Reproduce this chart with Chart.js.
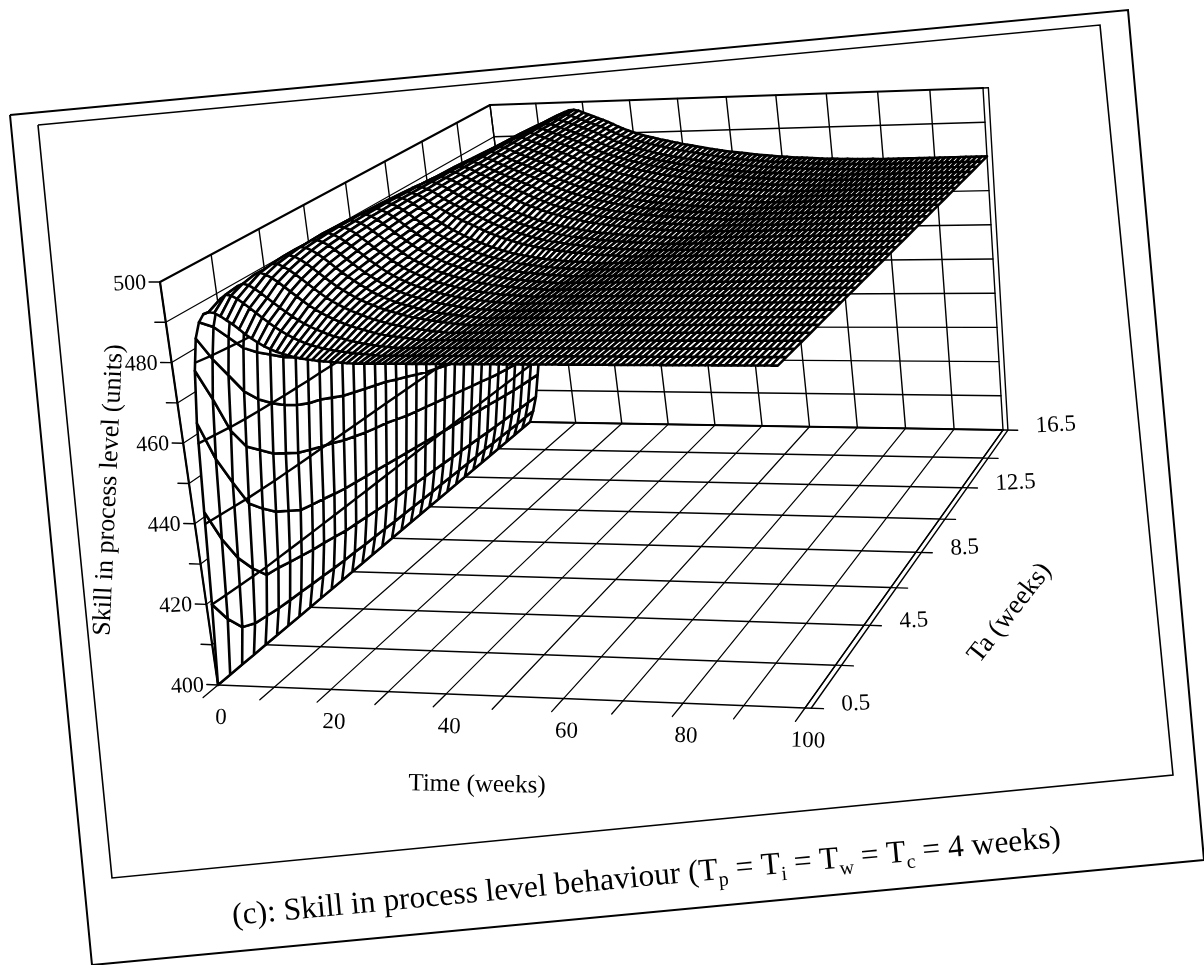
<!DOCTYPE html>
<html>
<head>
<meta charset="utf-8">
<title>Skill in process level behaviour</title>
<script src="https://cdn.jsdelivr.net/npm/chart.js@4/dist/chart.umd.min.js"></script>
<style>
  html, body { margin: 0; padding: 0; background: #fff; }
  canvas { display: block; }
</style>
</head>
<body>
<canvas id="grafico" width="1204" height="965"></canvas>
<script>
const timeTicks = [0, 20, 40, 60, 80, 100];
const taTicks = [0.5, 4.5, 8.5, 12.5, 16.5];
const skillTicks = [400, 420, 440, 460, 480, 500];
const contourLevels = [420, 440, 460, 480];
const settledLevel = 480; // every Ta sits on this level once its list below ends

const taValues = [0.5, 1, 1.5, 2, 2.5, 3, 3.5, 4, 4.5, 5, 5.5, 6, 6.5, 7, 7.5, 8, 8.5, 9, 9.5, 10, 10.5, 11, 11.5, 12, 12.5, 13, 13.5, 14, 14.5, 15, 15.5, 16, 16.5];
const timeValues = [];
for (let i = 0; i <= 100; i++) timeValues.push(i);

// skill level read week by week (week 0, 1, 2...), one list per Ta
const skillByTa = [
[400,420,443,465,478,486,490,492,492.5,492.3,491.5,490.5,489.5,488.3,487,486,485,484.1,483.4,482.8,482.3,481.9,481.5,481.2,481,480.8,480.6,480.5,480.4,480.3,480.2,480.1],
[400,414,434,454,469,479,487,491.5,494,495,494.8,494,492.9,491.7,490.5,489.3,488.1,487,486,485.1,484.3,483.6,483,482.5,482.1,481.7,481.4,481.2,481,480.8,480.6,480.5,480.4,480.2,480.1],
[400,409.5,427,446,459,473,482.5,489,493,495.4,496,495.6,494.7,493.6,492.4,491.2,490,488.9,487.8,486.8,486,485.2,484.5,483.9,483.3,482.8,482.4,482,481.6,481.3,481,480.8,480.6,480.4,480.3,480.1],
[400,408,422,438.5,453,467,478,486,491.5,495,496.6,497,496.5,495.6,494.6,493.4,492.2,491,489.8,488.7,487.7,486.8,486,485.3,484.6,484,483.5,483,482.6,482.2,481.8,481.5,481.2,481,480.8,480.6,480.4,480.2,480.1],
[400,407.5,418,435,450,463,475,484,490,494,496.5,497.5,497.5,496.8,495.9,494.8,493.6,492.4,491.2,490,488.9,487.9,487.1,486.3,485.6,485,484.4,483.8,483.3,482.9,482.5,482.1,481.8,481.5,481.2,481,480.8,480.6,480.4,480.3,480.1],
[400,407,417.5,432,447,460,472.5,482,488.7,493.3,496.3,497.8,498,497.6,496.8,495.8,494.6,493.4,492.2,491,489.9,488.9,488,487.1,486.4,485.7,485.1,484.5,484,483.5,483.1,482.7,482.3,482,481.7,481.4,481.2,481,480.8,480.6,480.4,480.3,480.1],
[400,406.7,416.7,430,445,457.5,470,480,487.4,492.5,495.9,497.8,498.4,498.2,497.5,496.6,495.5,494.3,493,491.8,490.7,489.6,488.6,487.7,486.7,486,485.3,484.7,484.1,483.6,483.2,482.8,482.4,482,481.7,481.4,481.2,481,480.8,480.6,480.5,480.3,480.2,480.1],
[400,406.5,416,428,443,455.5,468,478,486,491.7,495.5,497.7,498.5,498.5,498,497.1,496,494.8,493.5,492.3,491.1,490,489,488,487,486.2,485.5,484.9,484.3,483.8,483.4,483,482.6,482.2,481.9,481.6,481.4,481.1,480.9,480.7,480.5,480.4,480.3,480.2,480.1],
[400,406.2,415.3,427.2,441.7,454,466.5,476.8,485,491,495.2,497.6,498.6,498.7,498.2,497.4,496.4,495.2,494,492.8,491.5,490.4,489.3,488.3,487.4,486.6,485.9,485.2,484.6,484.1,483.6,483.2,482.8,482.4,482.1,481.8,481.5,481.3,481.1,480.9,480.7,480.5,480.4,480.3,480.2,480.1],
[400,406,414.8,426.5,440.5,453,465.5,475.8,484,490.2,494.6,497.3,498.5,498.8,498.5,497.8,496.8,495.6,494.4,493.1,491.9,490.8,489.7,488.7,487.7,486.9,486.2,485.5,484.9,484.3,483.8,483.4,483,482.6,482.3,482,481.7,481.4,481.2,481,480.8,480.6,480.5,480.4,480.3,480.2,480.1],
[400,405.7,414.2,425.7,439.3,451.5,464,474.5,483,489.5,494,497,498.4,498.8,498.6,498,497,495.9,494.7,493.5,492.3,491.2,490.1,489,488,487.3,486.5,485.8,485.2,484.6,484.1,483.6,483.2,482.8,482.4,482.1,481.8,481.6,481.3,481.1,480.9,480.8,480.6,480.5,480.4,480.3,480.2,480.1],
[400,405.5,413.5,425,438,450,463,473.5,482,488.8,493.5,496.6,498.2,498.8,498.7,498.2,497.3,496.2,495,493.8,492.6,491.5,490.4,489.3,488.4,487.6,486.9,486.2,485.5,484.9,484.4,483.9,483.4,483,482.6,482.3,482,481.7,481.5,481.2,481,480.9,480.7,480.6,480.4,480.3,480.2,480.1],
[400,405.4,413.2,424.5,437,449,462,472.5,481,488,492.9,496.2,498,498.7,498.7,498.2,497.5,496.4,495.3,494.1,492.9,491.8,490.7,489.6,488.7,488,487.2,486.5,485.8,485.2,484.6,484.1,483.6,483.2,482.8,482.4,482.1,481.8,481.6,481.4,481.1,481,480.8,480.7,480.5,480.4,480.3,480.2,480.1],
[400,405.2,412.8,424,436,448,461,471.5,480,487.2,492.3,495.8,497.7,498.6,498.7,498.3,497.6,496.6,495.5,494.3,493.2,492.1,491,490,489.1,488.3,487.5,486.8,486.1,485.5,484.9,484.3,483.8,483.4,483,482.6,482.3,482,481.7,481.5,481.3,481.1,480.9,480.8,480.6,480.5,480.4,480.3,480.2,480.1],
[400,405.1,412.4,423.5,435.2,447,460,470.5,479,486.4,491.7,495.3,497.4,498.4,498.6,498.3,497.7,496.8,495.7,494.6,493.4,492.3,491.3,490.3,489.4,488.6,487.8,487.1,486.4,485.8,485.2,484.6,484.1,483.6,483.2,482.8,482.5,482.2,481.9,481.6,481.4,481.2,481,480.9,480.7,480.6,480.5,480.4,480.3,480.2,480.1],
[400,405,412,423,434.5,446,459,469.5,478,485.5,491,494.8,497,498.2,498.5,498.2,497.7,496.9,495.8,494.7,493.8,492.9,492,491.2,490.4,489.7,489,488.2,487.5,486.8,486.2,485.6,485.1,484.6,484.1,483.7,483.4,483,482.7,482.4,482.2,481.9,481.7,481.5,481.3,481.2,481,480.9,480.7,480.6,480.5,480.4,480.3,480.2,480.1],
[400,404.8,411.7,422.5,433.5,444.7,458,468.5,477,484.5,490.2,494.3,496.7,498,498.4,498.2,497.7,497,496,494.9,494,493.2,492.4,491.6,490.8,490.1,489.3,488.5,487.8,487.1,486.5,485.9,485.4,484.9,484.4,484,483.6,483.2,482.9,482.6,482.4,482.1,481.9,481.7,481.5,481.3,481.2,481,480.9,480.8,480.6,480.5,480.4,480.3,480.2,480.1],
[400,404.7,411.5,422,432.5,443.5,457,467.5,476,483.6,489.5,493.7,496.3,497.7,498.3,498.2,497.8,497.1,496.2,495.2,494.3,493.5,492.7,492,491.2,490.4,489.6,488.8,488.1,487.4,486.8,486.2,485.7,485.2,484.7,484.3,483.9,483.5,483.2,482.9,482.6,482.3,482.1,481.9,481.7,481.5,481.3,481.2,481.1,480.9,480.8,480.7,480.6,480.5,480.4,480.3,480.2,480.1],
[400,404.6,411.2,421.5,431.7,442.2,456,466.5,475,482.7,488.7,493,495.9,497.5,498.1,498.1,497.8,497.2,496.3,495.4,494.6,493.8,493,492.3,491.5,490.8,490,489.2,488.4,487.7,487.1,486.5,485.9,485.4,484.9,484.5,484.1,483.7,483.4,483.1,482.8,482.5,482.3,482,481.8,481.6,481.5,481.3,481.2,481,480.9,480.8,480.7,480.6,480.5,480.4,480.3,480.2,480.1],
[400,404.5,411,421,431,441,454.5,465,474,481.8,487.8,492.3,495.4,497.2,498,498.1,497.8,497.2,496.4,495.6,494.8,494,493.3,492.5,491.8,491.1,490.4,489.9,489.1,488.4,487.8,487.2,486.6,486.1,485.6,485.2,484.8,484.4,484,483.7,483.3,483,482.8,482.5,482.3,482.1,481.9,481.7,481.5,481.3,481.2,481.1,480.9,480.8,480.7,480.6,480.5,480.4,480.3,480.2,480.2,480.1],
[400,404.4,410.7,420.5,430.2,440,453.5,464,473,480.8,487,491.7,495,497,497.9,498,497.8,497.3,496.5,495.7,495,494.2,493.5,492.8,492.1,491.4,490.8,490.2,489.4,488.7,488.1,487.5,486.9,486.3,485.8,485.4,485,484.6,484.2,483.9,483.5,483.2,483,482.7,482.5,482.3,482.1,481.9,481.7,481.5,481.3,481.2,481,480.9,480.8,480.7,480.6,480.5,480.4,480.3,480.2,480.2,480.1],
[400,404.4,410.5,420,429.5,439,452.5,463,472,479.8,486,491,494.5,496.6,497.7,498,497.8,497.3,496.6,495.8,495.1,494.4,493.7,493,492.4,491.7,491.1,490.4,489.6,488.9,488.3,487.7,487.1,486.6,486.1,485.6,485.2,484.8,484.4,484.1,483.7,483.4,483.2,482.9,482.7,482.4,482.2,482,481.8,481.7,481.5,481.3,481.2,481.1,480.9,480.8,480.7,480.6,480.5,480.4,480.3,480.3,480.2,480.1],
[400,404.3,410.2,419.5,428.7,438,451,462,471,478.8,485,490.3,494,496.3,497.5,497.9,497.8,497.3,496.7,495.9,495.2,494.5,493.9,493.2,492.6,492,491.3,490.7,489.9,489.2,488.5,487.9,487.3,486.8,486.3,485.8,485.4,485,484.6,484.3,483.9,483.6,483.3,483.1,482.8,482.6,482.3,482.1,481.9,481.8,481.6,481.4,481.3,481.1,481,480.9,480.8,480.7,480.6,480.5,480.4,480.3,480.2,480.1,480.1],
[400,404.2,410,419,428,437,450,461,470,478,484.2,489.5,493.5,496,497.3,497.8,497.8,497.4,496.8,496,495.3,494.6,494,493.4,492.8,492.1,491.5,490.8,490,489.3,488.7,488.1,487.5,487,486.5,486,485.6,485.2,484.8,484.4,484.1,483.8,483.5,483.2,482.9,482.7,482.4,482.2,482,481.8,481.6,481.5,481.3,481.2,481,480.9,480.8,480.7,480.6,480.5,480.4,480.3,480.3,480.2,480.1,480.1],
[400,404.1,409.7,418.5,427.2,436,449,460,469,477,483.3,488.8,492.9,495.6,497.1,497.7,497.8,497.5,496.9,496.1,495.5,494.8,494.2,493.6,493,492.4,491.7,491,490.2,489.5,488.9,488.3,487.7,487.2,486.7,486.2,485.8,485.4,485,484.6,484.3,484,483.7,483.4,483.1,482.9,482.6,482.4,482.2,482,481.8,481.7,481.5,481.3,481.2,481.1,481,480.9,480.7,480.6,480.6,480.5,480.4,480.3,480.2,480.2,480.1],
[400,404,409.5,418,426.5,435,448,459,468,476,482.4,488,492.3,495.2,496.9,497.6,497.7,497.5,497,496.2,495.6,495,494.4,493.8,493.2,492.6,491.9,491.2,490.4,489.7,489.1,488.5,487.9,487.4,486.9,486.4,486,485.6,485.2,484.8,484.5,484.2,483.9,483.6,483.3,483.1,482.8,482.6,482.4,482.2,482,481.8,481.7,481.5,481.4,481.2,481.1,481,480.9,480.8,480.7,480.6,480.5,480.4,480.3,480.2,480.2,480.1],
[400,404,409.2,417.5,425.7,434.2,447,458,467,475,481.5,487.2,491.7,494.8,496.6,497.5,497.7,497.6,497.1,496.4,495.8,495.2,494.6,494,493.4,492.8,492.2,491.4,490.7,490,489.4,488.8,488.2,487.7,487.2,486.8,486.3,485.9,485.5,485.2,484.8,484.5,484.2,483.9,483.6,483.4,483.1,482.9,482.7,482.5,482.3,482.1,481.9,481.8,481.6,481.5,481.3,481.2,481.1,481,480.9,480.8,480.7,480.6,480.5,480.4,480.3,480.3,480.2,480.1],
[400,403.9,409,417,425,433.5,446,457,466,474,480.5,486.3,491,494.3,496.3,497.4,497.7,497.6,497.2,496.5,496,495.4,494.8,494.2,493.6,493,492.4,491.6,490.9,490.2,489.6,489,488.5,488,487.5,487.1,486.6,486.2,485.9,485.5,485.2,484.8,484.5,484.2,483.9,483.7,483.4,483.2,482.9,482.7,482.5,482.3,482.1,482,481.8,481.6,481.5,481.4,481.2,481.1,481,480.9,480.8,480.7,480.6,480.5,480.4,480.4,480.3,480.2,480.2,480.1,480.1],
[400,403.8,408.8,416.5,424.5,432.7,445,456,465,473,479.6,485.4,490.3,493.8,496,497.2,497.6,497.6,497.3,496.7,496.1,495.6,495,494.4,493.8,493.2,492.5,491.7,491,490.3,489.7,489.1,488.6,488.1,487.6,487.2,486.8,486.4,486,485.6,485.3,485,484.7,484.4,484.1,483.8,483.6,483.3,483.1,482.9,482.7,482.5,482.3,482.1,481.9,481.8,481.6,481.5,481.4,481.2,481.1,481,480.9,480.8,480.7,480.6,480.5,480.4,480.4,480.3,480.2,480.2,480.1,480.1],
[400,403.7,408.6,416,424,432,444,455,464,472,478.7,484.5,489.5,493.2,495.6,497,497.5,497.6,497.3,496.8,496.2,495.7,495.1,494.5,493.9,493.3,492.6,491.8,491.1,490.4,489.8,489.2,488.7,488.2,487.7,487.3,486.9,486.5,486.1,485.7,485.4,485.1,484.8,484.5,484.2,484,483.7,483.5,483.2,483,482.8,482.6,482.4,482.2,482,481.9,481.7,481.6,481.4,481.3,481.2,481.1,481,480.9,480.8,480.7,480.6,480.5,480.4,480.4,480.3,480.2,480.2,480.1,480.1],
[400,403.6,408.4,415.6,423.3,431.3,443,454,463,471,477.8,483.6,488.7,492.6,495.2,496.7,497.4,497.6,497.4,496.9,496.3,495.8,495.2,494.6,494,493.4,492.7,491.9,491.2,490.5,489.9,489.3,488.8,488.3,487.8,487.4,487,486.6,486.2,485.8,485.5,485.2,484.9,484.6,484.3,484.1,483.8,483.6,483.3,483.1,482.9,482.7,482.5,482.3,482.2,482,481.8,481.7,481.5,481.4,481.3,481.2,481.1,481,480.9,480.8,480.7,480.6,480.5,480.5,480.4,480.3,480.3,480.2,480.2,480.1,480.1],
[400,403.6,408.2,415.3,422.7,430.7,442,453,462,470,476.8,482.7,487.8,491.9,494.7,496.4,497.3,497.6,497.5,497.1,496.4,495.9,495.3,494.7,494.1,493.5,492.8,492,491.3,490.6,490,489.5,489,488.5,488.1,487.7,487.3,487,486.6,486.3,485.9,485.6,485.3,485,484.7,484.4,484.1,483.9,483.6,483.3,483.1,482.9,482.7,482.5,482.3,482.1,482,481.8,481.7,481.5,481.4,481.3,481.2,481.1,481,480.9,480.8,480.7,480.6,480.5,480.5,480.4,480.3,480.3,480.2,480.2,480.1,480.1],
[400,403.5,408,415,422,430,441,452,461,469,475.8,481.7,486.8,491,494,496,497,497.5,497.6,497.3,496.6,496,495.4,494.8,494.2,493.5,492.8,492,491.3,490.7,490.1,489.6,489.1,488.7,488.3,487.9,487.5,487.2,486.8,486.5,486.1,485.8,485.5,485.2,484.9,484.6,484.3,484,483.8,483.5,483.3,483.1,482.9,482.7,482.5,482.3,482.1,482,481.8,481.6,481.5,481.4,481.2,481.1,481,480.9,480.8,480.7,480.6,480.5,480.5,480.4,480.3,480.3,480.2,480.2,480.1,480.1,480.1]
];

// corners of the box on the page: floor (skill 400) and ceiling (skill 500),
// in the order week 0/Ta 0.5, week 100/Ta 0.5, week 100/Ta 16.5, week 0/Ta 16.5
const floorCorners = [[218, 685], [805, 708], [1003, 430], [530, 422]];
const ceilingCorners = [[160, 282], [771, 280], [983, 88], [490, 105]];

function cuadro(q) {
    const [x0, x1, x2, x3] = q.map(p => p[0]);
    const [y0, y1, y2, y3] = q.map(p => p[1]);
    const sx = x0 - x1 + x2 - x3, sy = y0 - y1 + y2 - y3;
    const dx1 = x1 - x2, dx2 = x3 - x2, dy1 = y1 - y2, dy2 = y3 - y2;
    const den = dx1 * dy2 - dx2 * dy1;
    const g = (sx * dy2 - dx2 * sy) / den, h = (dx1 * sy - sx * dy1) / den;
    return (u, v) => {
        const w = g * u + h * v + 1;
        return [((x1 - x0 + g * x1) * u + (x3 - x0 + h * x3) * v + x0) / w,
                ((y1 - y0 + g * y1) * u + (y3 - y0 + h * y3) * v + y0) / w];
    };
}
const piso = cuadro(floorCorners);
const techo = cuadro(ceilingCorners);

function proyectar(semana, ta, nivel) {
    const u = semana / 100, v = (ta - 0.5) / 16, f = (nivel - 400) / 100;
    const a = piso(u, v), b = techo(u, v);
    return { x: a[0] + f * (b[0] - a[0]), y: a[1] + f * (b[1] - a[1]) };
}

function nivelEn(i, j) {
    const v = skillByTa[j][i];
    return v === undefined ? settledLevel : v;
}
const punto = (i, j) => proyectar(timeValues[i], taValues[j], nivelEn(i, j));

let pintura = [];

function linea(puntos, ancho) {
    pintura.push({
        data: puntos.map(p => proyectar(p[0], p[1], p[2])),
        showLine: true, pointRadius: 0, borderColor: "#000", borderWidth: ancho, fill: false
    });
}

function cruce(nivel, j) {
    const serie = skillByTa[j];
    for (let k = 1; k < serie.length; k++) {
        if (serie[k] >= nivel) return k - 1 + (nivel - serie[k - 1]) / (serie[k] - serie[k - 1]);
    }
    return 0;
}

// back wall, left wall and floor grid
for (let s = 0; s <= 100; s += 10) {
    linea([[s, 16.5, 400], [s, 16.5, 500]], 1.4);
    linea([[s, 0.5, 400], [s, 16.5, 400]], 1.2);
    linea([[s, 0.5, 400], [s, -0.1, 400]], 1.3);
}
for (let n = 400; n <= 500; n += 10) {
    linea([[0, 16.5, n], [100, 16.5, n]], n === 400 || n === 500 ? 2.2 : 1.4);
    linea([[0, 0.5, n], [0, 16.5, n]], n === 400 || n === 500 ? 2 : 1.2);
    linea([[0, 0.5, n], [-2, 0.5, n]], 1.4);
}
for (let t = 0.5; t <= 16.5; t += 2) {
    linea([[0, t, 400], [0, t, 500]], 1.4);
    linea([[0, t, 400], [100, t, 400]], 1.5);
    linea([[100, t, 400], [103, t, 400]], 1.3);
}
linea([[0, 0.5, 400], [0, 0.5, 500]], 2.2);
linea([[101, 0.5, 400], [101, 16.5, 400], [101, 16.5, 500]], 1.4);
linea([[100, 0.5, 400], [100, 16.5, 400]], 1.4);
linea([[100, 16.5, 500], [101, 16.5, 500]], 1.4);

// surface, one closed strip per week, back to front, so the white fill hides what is behind
for (let i = 0; i < timeValues.length - 1; i++) {
    const tira = [];
    for (let j = 0; j < taValues.length; j++) tira.push(punto(i, j));
    for (let j = taValues.length - 1; j >= 0; j--) {
        tira.push(punto(i + 1, j));
        if (j > 0) {
            tira.push(punto(i, j));
            tira.push(punto(i + 1, j));
        }
    }
    tira.push(punto(i, 0));
    pintura.push({
        data: tira, showLine: true, pointRadius: 0, borderColor: "#000", borderWidth: 2.6,
        backgroundColor: "#fff", fill: "shape", borderDash: [99999, 1]
    });

    // level lines crossing this strip
    contourLevels.forEach(nivel => {
        for (let j = 0; j < taValues.length - 1; j++) {
            const a = cruce(nivel, j), b = cruce(nivel, j + 1);
            if (Math.floor(Math.max(a, b)) === i) linea([[a, taValues[j], nivel], [b, taValues[j + 1], nivel]], 2.4);
        }
    });
}

const pageFrames = [
    { points: [[10, 115], [1128, 10], [1204, 860], [92, 965], [10, 115]], width: 2 },
    { points: [[38, 125], [1100, 25], [1173, 775], [112, 878], [38, 125]], width: 1.6 }
];

const caption = [
    ["(c): Skill in process level behaviour (T", false], ["p", true], [" = T", false], ["i", true],
    [" = T", false], ["w", true], [" = T", false], ["c", true], [" = 4 weeks)", false]
];

function rotulo(ctx, texto, x, y, size, grados, align) {
    ctx.save();
    ctx.translate(x, y);
    ctx.rotate(grados * Math.PI / 180);
    ctx.font = size + 'px "Liberation Serif"';
    ctx.fillStyle = "#000";
    ctx.textAlign = align || "center";
    ctx.textBaseline = "middle";
    ctx.fillText(texto, 0, 0);
    ctx.restore();
}

const marco = {
    id: "marco",
    beforeDatasetsDraw(chart) {
        const ctx = chart.ctx;
        ctx.save();
        ctx.strokeStyle = "#000";
        pageFrames.forEach(f => {
            ctx.lineWidth = f.width;
            ctx.beginPath();
            f.points.forEach((p, i) => i ? ctx.lineTo(p[0], p[1]) : ctx.moveTo(p[0], p[1]));
            ctx.stroke();
        });
        ctx.restore();
    }
};

const textos = {
    id: "textos",
    afterDraw(chart) {
        const ctx = chart.ctx, sx = chart.scales.x, sy = chart.scales.y;
        const px = p => [sx.getPixelForValue(p.x), sy.getPixelForValue(p.y)];

        skillTicks.forEach(n => {
            const p = px(proyectar(-2, 0.5, n));
            rotulo(ctx, String(n), p[0] - 3, p[1] + 1, 22, -3, "right");
        });
        timeTicks.forEach(s => {
            const p = px(proyectar(s, 0.5, 400));
            rotulo(ctx, String(s), p[0] + 3, p[1] + 33, 23, 2);
        });
        taTicks.forEach(t => {
            const p = px(proyectar(103, t, 400));
            rotulo(ctx, String(t), p[0] + 18, p[1] - 4, 23, -3, "left");
        });

        rotulo(ctx, "Skill in process level (units)", 109, 490, 26, -87.5);
        rotulo(ctx, "Time (weeks)", 477, 785, 25, 1);
        rotulo(ctx, "Ta (weeks)", 1010, 613, 27, -52);

        // caption with its subscripts, run by run along the tilted line
        ctx.save();
        ctx.translate(233, 925);
        ctx.rotate(-5.4 * Math.PI / 180);
        ctx.fillStyle = "#000";
        ctx.textAlign = "left";
        ctx.textBaseline = "alphabetic";
        let x = 0;
        caption.forEach(([texto, sub]) => {
            ctx.font = (sub ? 20 : 31.6) + 'px "Liberation Serif"';
            ctx.fillText(texto, x, sub ? 7 : 0);
            x += ctx.measureText(texto).width;
        });
        ctx.restore();
    }
};

new Chart(document.getElementById("grafico"), {
    type: "scatter",
    data: { datasets: pintura.reverse() },
    options: {
        responsive: false,
        animation: false,
        events: [],
        parsing: false,
        layout: { padding: 0 },
        elements: { line: { borderCapStyle: "round", borderJoinStyle: "round", tension: 0 } },
        plugins: { legend: { display: false }, tooltip: { enabled: false }, title: { display: false } },
        scales: {
            x: { type: "linear", min: 0, max: 1204, display: false },
            y: { type: "linear", min: 0, max: 965, reverse: true, display: false }
        }
    },
    plugins: [marco, textos]
});
</script>
</body>
</html>
